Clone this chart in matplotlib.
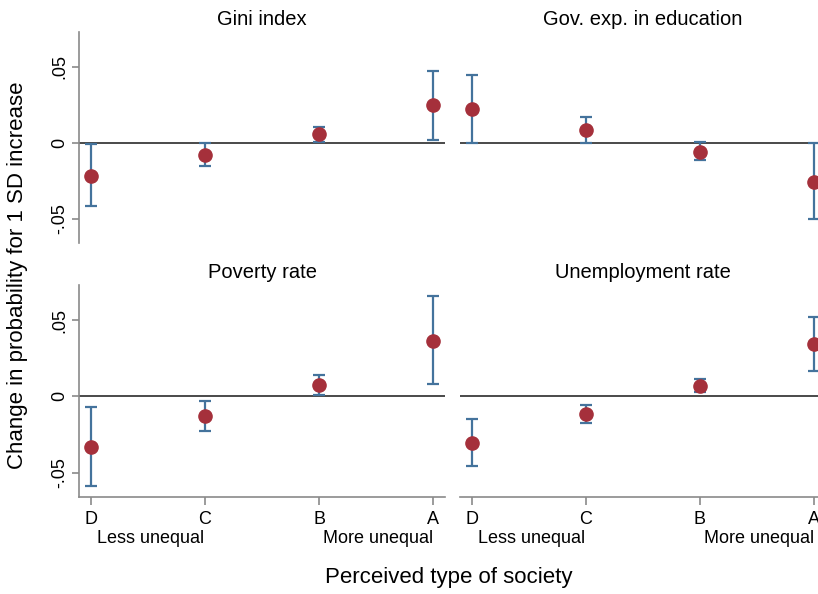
import numpy as np
import matplotlib
matplotlib.use("Agg")
import matplotlib.pyplot as plt
import matplotlib.transforms as mtransforms

plt.rcParams['font.family'] = ['Liberation Sans', 'DejaVu Sans']

# perceived society type, from less to more unequal
types = ['D', 'C', 'B', 'A']

panel_titles = ['Gini index', 'Gov. exp. in education', 'Poverty rate', 'Unemployment rate']

# marginal effects with 95% CI (lower, upper)
gini_est = [-0.022, -0.0078, 0.0057, 0.0246]
gini_lo = [-0.0416, -0.0155, 0.0005, 0.0018]
gini_hi = [-0.0007, 0.0, 0.0107, 0.0473]

educ_est = [0.0225, 0.0083, -0.0059, -0.0255]
educ_lo = [0.0, 0.0, -0.0113, -0.0505]
educ_hi = [0.0449, 0.017, 0.0003, 0.0]

pov_est = [-0.0329, -0.0127, 0.0077, 0.0366]
pov_lo = [-0.0586, -0.0224, 0.0011, 0.0079]
pov_hi = [-0.007, -0.0031, 0.0143, 0.0658]

unemp_est = [-0.0307, -0.0116, 0.007, 0.034]
unemp_lo = [-0.046, -0.0175, 0.0031, 0.0164]
unemp_hi = [-0.0149, -0.0059, 0.0112, 0.0518]

series = [(gini_est, gini_lo, gini_hi), (educ_est, educ_lo, educ_hi),
          (pov_est, pov_lo, pov_hi), (unemp_est, unemp_lo, unemp_hi)]

pt_color = '#a5303b'
ci_color = '#44739c'
axis_color = '#8a8a8a'

fig = plt.figure(figsize=(8.18, 5.94), dpi=100)

# panel boxes: left, bottom, width, height (figure fraction)
boxes = [
    [0.0966, 0.5909, 0.4474, 0.3552],
    [0.5623, 0.5909, 0.4474, 0.3552],
    [0.0966, 0.1633, 0.4474, 0.3569],
    [0.5623, 0.1633, 0.4474, 0.3569],
]

x = np.arange(1, len(types) + 1)

for i, (box, title, (est, lo, hi)) in enumerate(zip(boxes, panel_titles, series)):
    ax = fig.add_axes(box)
    est = np.array(est)
    lo = np.array(lo)
    hi = np.array(hi)
    ax.axhline(0, color='#3a3a3a', lw=1.3, zorder=1)
    ax.errorbar(x, est, yerr=[est - lo, hi - est], fmt='none', ecolor=ci_color,
                elinewidth=1.6, capsize=4, capthick=1.6, zorder=2)
    ax.plot(x, est, 'o', color=pt_color, markersize=9.5, zorder=3)
    ax.set_xlim(0.895, 4.105)
    ax.set_ylim(-0.066, 0.073)
    ax.set_title(title, fontsize=14.5, pad=5)

    for s in ['top', 'right']:
        ax.spines[s].set_visible(False)
    left_col = (i % 2 == 0)
    bottom_row = (i >= 2)

    if left_col:
        ax.spines['left'].set_color(axis_color)
        ax.spines['left'].set_linewidth(1.2)
        ax.set_yticks([-0.05, 0, 0.05])
        ax.set_yticklabels(['-.05', '0', '.05'], rotation=90, va='center', fontsize=13)
        ax.tick_params(axis='y', color=axis_color, length=5, width=1.2, pad=3)
    else:
        ax.spines['left'].set_visible(False)
        ax.set_yticks([])

    if bottom_row:
        ax.spines['bottom'].set_color(axis_color)
        ax.spines['bottom'].set_linewidth(1.2)
        ax.set_xticks(x)
        ax.set_xticklabels(types, fontsize=13)
        ax.tick_params(axis='x', color=axis_color, length=6, width=1.2, pad=4)
        trans = mtransforms.blended_transform_factory(ax.transData, ax.transAxes)
        ax.text(1.05, -0.195, 'Less unequal', ha='left', va='center', fontsize=13,
                transform=trans, clip_on=False)
        ax.text(4.0, -0.195, 'More unequal', ha='right', va='center', fontsize=13,
                transform=trans, clip_on=False)
    else:
        ax.spines['bottom'].set_visible(False)
        ax.set_xticks([])

fig.text(0.022, 0.537, 'Change in probability for 1 SD increase', rotation=90,
         ha='center', va='center', fontsize=16)
fig.text(0.549, 0.027, 'Perceived type of society', ha='center', va='center', fontsize=16)

fig.savefig('out.png', dpi=100)
